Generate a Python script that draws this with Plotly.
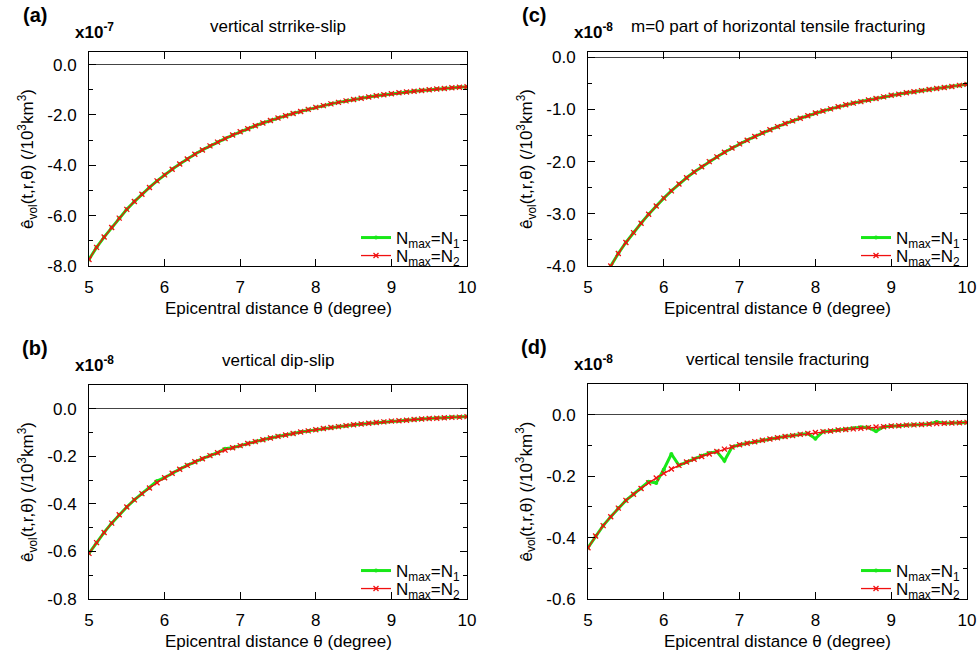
import plotly.graph_objects as go

# ---------------- data ----------------
theta = [round(5 + 0.1 * i, 1) for i in range(51)]

# (a) vertical strike-slip, units of 1e-7
a_n2 = [-7.74, -7.26, -6.85, -6.47, -6.10, -5.75, -5.44, -5.15, -4.88, -4.62,
        -4.38, -4.16, -3.95, -3.75, -3.56, -3.39, -3.23, -3.08, -2.94, -2.80,
        -2.67, -2.55, -2.43, -2.32, -2.22, -2.12, -2.03, -1.94, -1.86, -1.78,
        -1.70, -1.63, -1.56, -1.50, -1.44, -1.39, -1.34, -1.29, -1.24, -1.20,
        -1.16, -1.12, -1.09, -1.06, -1.03, -1.00, -0.97, -0.95, -0.92, -0.90,
        -0.88]
a_n1 = [-7.74, -7.26, -6.85, -6.47, -6.10, -5.75, -5.44, -5.15, -4.88, -4.62,
        -4.38, -4.16, -3.95, -3.75, -3.56, -3.39, -3.23, -3.08, -2.94, -2.80,
        -2.67, -2.55, -2.43, -2.32, -2.22, -2.12, -2.03, -1.94, -1.86, -1.78,
        -1.70, -1.63, -1.56, -1.50, -1.44, -1.39, -1.34, -1.29, -1.24, -1.20,
        -1.16, -1.12, -1.09, -1.06, -1.03, -1.00, -0.97, -0.95, -0.92, -0.90,
        -0.88]

# (b) vertical dip-slip, units of 1e-8
b_n2 = [-0.608, -0.563, -0.520, -0.481, -0.446, -0.413, -0.383, -0.357, -0.333, -0.311,
        -0.290, -0.271, -0.254, -0.238, -0.223, -0.210, -0.197, -0.185, -0.174, -0.164,
        -0.155, -0.146, -0.138, -0.130, -0.123, -0.116, -0.110, -0.104, -0.098, -0.093,
        -0.088, -0.083, -0.079, -0.075, -0.071, -0.067, -0.064, -0.061, -0.058, -0.055,
        -0.052, -0.050, -0.048, -0.045, -0.043, -0.041, -0.040, -0.038, -0.036, -0.035,
        -0.033]
b_n1 = [-0.608, -0.563, -0.520, -0.481, -0.446, -0.413, -0.383, -0.357, -0.333, -0.304,
        -0.290, -0.271, -0.254, -0.238, -0.223, -0.210, -0.197, -0.185, -0.168, -0.164,
        -0.155, -0.146, -0.138, -0.130, -0.123, -0.116, -0.110, -0.104, -0.098, -0.093,
        -0.088, -0.083, -0.079, -0.075, -0.071, -0.067, -0.064, -0.061, -0.058, -0.055,
        -0.052, -0.050, -0.048, -0.045, -0.043, -0.041, -0.040, -0.038, -0.036, -0.035,
        -0.033]

# (c) m=0 part of horizontal tensile fracturing, units of 1e-8
c_n2 = [-4.83, -4.53, -4.25, -4.00, -3.76, -3.55, -3.36, -3.18, -3.01, -2.85,
        -2.70, -2.56, -2.43, -2.31, -2.20, -2.10, -2.00, -1.91, -1.82, -1.74,
        -1.66, -1.59, -1.52, -1.45, -1.39, -1.33, -1.27, -1.22, -1.17, -1.12,
        -1.07, -1.03, -0.99, -0.95, -0.91, -0.88, -0.85, -0.82, -0.79, -0.76,
        -0.73, -0.71, -0.68, -0.66, -0.64, -0.62, -0.60, -0.58, -0.56, -0.54,
        -0.52]
c_n1 = [-4.83, -4.53, -4.25, -4.00, -3.76, -3.55, -3.36, -3.18, -3.01, -2.85,
        -2.70, -2.56, -2.43, -2.31, -2.20, -2.10, -2.00, -1.91, -1.82, -1.74,
        -1.66, -1.59, -1.52, -1.45, -1.39, -1.33, -1.27, -1.22, -1.17, -1.12,
        -1.07, -1.03, -0.99, -0.95, -0.91, -0.88, -0.85, -0.82, -0.79, -0.76,
        -0.73, -0.71, -0.68, -0.66, -0.64, -0.62, -0.60, -0.58, -0.56, -0.54,
        -0.52]

# (d) vertical tensile fracturing, units of 1e-8
d_n2 = [-0.433, -0.395, -0.361, -0.332, -0.304, -0.279, -0.259, -0.240, -0.222, -0.206,
        -0.191, -0.177, -0.165, -0.154, -0.145, -0.136, -0.128, -0.120, -0.112, -0.105,
        -0.098, -0.093, -0.088, -0.083, -0.079, -0.075, -0.071, -0.068, -0.064, -0.061,
        -0.058, -0.055, -0.053, -0.050, -0.048, -0.046, -0.044, -0.042, -0.040, -0.039,
        -0.037, -0.036, -0.034, -0.033, -0.032, -0.030, -0.029, -0.028, -0.027, -0.026,
        -0.025]
d_n1 = [-0.433, -0.395, -0.361, -0.332, -0.304, -0.279, -0.259, -0.240, -0.218, -0.222,
        -0.178, -0.128, -0.165, -0.154, -0.143, -0.134, -0.125, -0.120, -0.150, -0.105,
        -0.098, -0.093, -0.088, -0.083, -0.079, -0.075, -0.071, -0.068, -0.064, -0.061,
        -0.078, -0.055, -0.053, -0.050, -0.048, -0.044, -0.041, -0.042, -0.054, -0.039,
        -0.037, -0.036, -0.034, -0.033, -0.032, -0.030, -0.024, -0.028, -0.027, -0.026,
        -0.025]

x_ticks = [5, 6, 7, 8, 9, 10]
x_ticktext = ["5", "6", "7", "8", "9", "10"]

a_yticks = [-8, -6, -4, -2, 0]
a_ytext = ["-8.0", "-6.0", "-4.0", "-2.0", "0.0"]
a_yminor = [-7, -5, -3, -1]
b_yticks = [-0.8, -0.6, -0.4, -0.2, 0]
b_ytext = ["-0.8", "-0.6", "-0.4", "-0.2", "0.0"]
b_yminor = [-0.7, -0.5, -0.3, -0.1]
c_yticks = [-4, -3, -2, -1, 0]
c_ytext = ["-4.0", "-3.0", "-2.0", "-1.0", "0.0"]
c_yminor = [-3.5, -2.5, -1.5, -0.5]
d_yticks = [-0.6, -0.4, -0.2, 0]
d_ytext = ["-0.6", "-0.4", "-0.2", "0.0"]
d_yminor = [-0.5, -0.3, -0.1]

titles = ["vertical strrike-slip", "vertical dip-slip",
          "m=0 part of horizontal tensile fracturing", "vertical tensile fracturing"]
panel_labels = ["(a)", "(b)", "(c)", "(d)"]
exponents = ["-7", "-8", "-8", "-8"]
name1 = "N<sub>max</sub>=N<sub>1</sub>"
name2 = "N<sub>max</sub>=N<sub>2</sub>"
ylabel = "ê<sub>vol</sub>(t,r,θ) (/10<sup>3</sup>km<sup>3</sup>)"
xlabel = "Epicentral distance θ (degree)"

# ---------------- layout helpers ----------------
W, H = 979, 654
FONT = "Liberation Sans, Arial, sans-serif"
GREEN = "#18e818"
RED = "#f01010"


def px(x):
    return x / W


def py(y):
    return 1 - y / H


# panel geometry in pixels: left, right, top, bottom
geo = {
    "a": (89, 467, 52, 266),
    "b": (89, 467, 385, 599),
    "c": (588, 967, 52, 266),
    "d": (588, 967, 384, 599),
}
panels = [
    ("a", a_n1, a_n2, [-8, 0.5], a_yticks, a_ytext, a_yminor),
    ("b", b_n1, b_n2, [-0.8, 0.1], b_yticks, b_ytext, b_yminor),
    ("c", c_n1, c_n2, [-4, 0.1], c_yticks, c_ytext, c_yminor),
    ("d", d_n1, d_n2, [-0.6, 0.1], d_yticks, d_ytext, d_yminor),
]

fig = go.Figure()
layout = dict(
    width=W, height=H,
    margin=dict(l=0, r=0, t=0, b=0, pad=0, autoexpand=False),
    paper_bgcolor="white", plot_bgcolor="white",
    font=dict(family=FONT, size=17, color="black"),
    showlegend=True,
    annotations=[],
)

for i, (key, n1, n2, yr, yt, ytt, ymin) in enumerate(panels):
    k = "" if i == 0 else str(i + 1)
    xa, ya = "x" + k, "y" + k
    leg1 = "legend" + ("" if i == 0 else str(2 * i + 1))
    leg2 = "legend" + str(2 * i + 2)
    l, r, t, b = geo[key]
    fig.add_trace(go.Scatter(
        x=theta, y=n1, xaxis=xa, yaxis=ya, name=name1, legend=leg1,
        mode="lines+markers", line=dict(color=GREEN, width=3),
        marker=dict(symbol="circle", size=4, color=GREEN)))
    fig.add_trace(go.Scatter(
        x=theta, y=n2, xaxis=xa, yaxis=ya, name=name2, legend=leg2,
        mode="lines+markers", line=dict(color=RED, width=1.3),
        marker=dict(symbol="x-thin", size=5, line=dict(color=RED, width=1.3))))

    layout["xaxis" + k] = dict(
        domain=[px(l), px(r)], anchor=ya, range=[5, 10],
        tickmode="array", tickvals=x_ticks, ticktext=x_ticktext,
        ticks="inside", ticklen=7, tickcolor="black", tickwidth=1,
        showline=True, linecolor="black", linewidth=1, mirror="ticks",
        showgrid=False, zeroline=False, ticklabelstandoff=6,
        tickfont=dict(size=17))
    layout["yaxis" + k] = dict(
        domain=[py(b), py(t)], anchor=xa, range=yr,
        tickmode="array", tickvals=yt, ticktext=ytt,
        ticks="inside", ticklen=7, tickcolor="black", tickwidth=1,
        minor=dict(tickmode="array", tickvals=ymin, ticks="inside",
                   ticklen=4, tickcolor="black", tickwidth=1, showgrid=False),
        showline=True, linecolor="black", linewidth=1, mirror="ticks",
        showgrid=False, zeroline=True, zerolinecolor="#444", zerolinewidth=1,
        ticklabelstandoff=8, tickfont=dict(size=17))
    for leg, row_y in ((leg1, b - 28), (leg2, b - 10)):
        layout[leg] = dict(
            x=px(r - 2), y=py(row_y), xanchor="right", yanchor="middle",
            xref="paper", yref="paper", bgcolor="rgba(0,0,0,0)",
            font=dict(size=17), itemwidth=30, borderwidth=0, visible=True)

    cx = (l + r) / 2
    ann = layout["annotations"]
    common = dict(xref="paper", yref="paper", showarrow=False, yanchor="middle")
    ann.append(dict(text="<b>" + panel_labels[i] + "</b>", x=px(l - 54), y=py(t - 37),
                    xanchor="center", font=dict(size=20), **common))
    ann.append(dict(text="<b>x10<sup>" + exponents[i] + "</sup></b>", x=px(l - 16),
                    y=py(t - 21), xanchor="left", font=dict(size=17), **common))
    ann.append(dict(text=titles[i], x=px(cx), y=py(t - 25), xanchor="center",
                    font=dict(size=17), **common))
    ann.append(dict(text=ylabel, x=px(l - 62), y=py((t + b) / 2), xanchor="center",
                    textangle=-90, font=dict(size=17), **common))
    ann.append(dict(text=xlabel, x=px(cx), y=py(b + 42), xanchor="center",
                    font=dict(size=17), **common))

fig.update_layout(**layout)
fig.write_html("out.html",
               config={"displayModeBar": False},
               post_script="document.body.style.margin='0px';"
                           "document.body.style.padding='0px';")
